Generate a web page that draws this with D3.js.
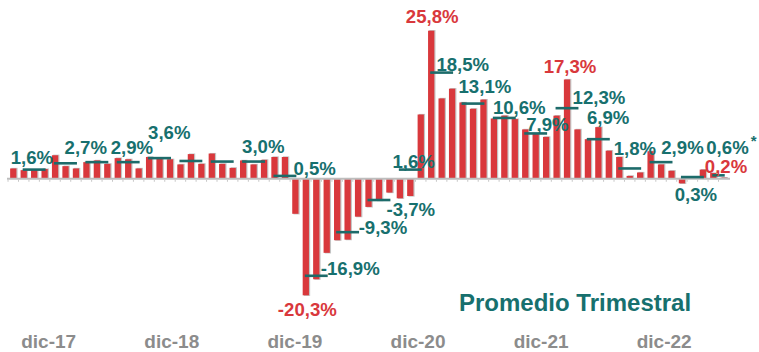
<!DOCTYPE html>
<html>
<head>
<meta charset="utf-8">
<script src="https://cdn.jsdelivr.net/npm/d3@7"></script>
<style>
  html, body { margin: 0; padding: 0; background: #ffffff; }
  svg { display: block; }
  text { font-family: "Liberation Sans", Arial, sans-serif; font-weight: bold; }
</style>
</head>
<body>
<svg id="chart" width="759" height="352"></svg>
<script>
// Monthly year-on-year variation (%), dic-17 .. ago-23
const months = [
  "dic-17",
  "ene-18","feb-18","mar-18","abr-18","may-18","jun-18","jul-18","ago-18","sep-18","oct-18","nov-18","dic-18",
  "ene-19","feb-19","mar-19","abr-19","may-19","jun-19","jul-19","ago-19","sep-19","oct-19","nov-19","dic-19",
  "ene-20","feb-20","mar-20","abr-20","may-20","jun-20","jul-20","ago-20","sep-20","oct-20","nov-20","dic-20",
  "ene-21","feb-21","mar-21","abr-21","may-21","jun-21","jul-21","ago-21","sep-21","oct-21","nov-21","dic-21",
  "ene-22","feb-22","mar-22","abr-22","may-22","jun-22","jul-22","ago-22","sep-22","oct-22","nov-22","dic-22",
  "ene-23","feb-23","mar-23","abr-23","may-23","jun-23","jul-23","ago-23"
];
const monthlyValues = [
  1.8,
  1.5, 1.6, 1.7, 4.1, 2.2, 1.8, 2.9, 3.2, 2.6, 3.6, 3.4, 1.8,
  3.8, 3.6, 3.4, 2.5, 4.3, 2.6, 4.4, 2.6, 1.9, 3.2, 2.5, 3.3,
  3.8, 3.8, -6.1, -20.3, -17.5, -12.9, -10.7, -10.6, -6.6, -4.9, -3.8, -2.4,
  -3.4, -3.0, 11.2, 25.8, 14.0, 15.7, 13.3, 12.2, 13.8, 10.5, 11.0, 10.4,
  8.6, 7.8, 7.3, 11.0, 17.3, 8.6, 6.9, 9.0, 4.9, 3.8, 0.5, 1.1,
  4.8, 2.5, 1.4, -0.8, 0.1, 1.6, 1.0, 0.2
];

// Quarterly averages (%); the last quarter is partial
const quarters = [
  "I-18","II-18","III-18","IV-18",
  "I-19","II-19","III-19","IV-19",
  "I-20","II-20","III-20","IV-20",
  "I-21","II-21","III-21","IV-21",
  "I-22","II-22","III-22","IV-22",
  "I-23","II-23","III-23"
];
const quarterAvg = [
  1.6, 2.7, 2.9, 2.9,
  3.6, 3.1, 3.0, 3.0,
  0.5, -16.9, -9.3, -3.7,
  1.6, 18.5, 13.1, 10.6,
  7.9, 12.3, 6.9, 1.8,
  2.9, 0.3, 0.6
];
const quarterLabelled = [
  true, true, false, true,
  true, false, false, true,
  true, true, true, true,
  true, true, true, true,
  true, true, true, true,
  true, true, true
];
const partialQuarter = "III-23";

// Months whose own value is written next to the bar
const highlightMonths = ["abr-20", "abr-21", "may-22", "ago-23"];

const tickLabels = ["dic-17", "dic-18", "dic-19", "dic-20", "dic-21", "dic-22"];
const legendText = "Promedio Trimestral";

// ---- layout helpers (offsets of labels from their mark, px) ----
const quarterLabelNudge = [
  [-12, -6], [10.5, -9], null, [-6, -8],
  [0, -19], null, null, [0, -8.5],
  [20, -1], [16, -1], [22.5, 2.3], [19, 16],
  [-6.4, -1.3], [6.2, -1.6], [-3, -10.3], [0, -4],
  [2, -2.8], [17, -4], [0, -15], [-4.6, -13.5],
  [11.7, -8], [-6.3, 23.6], [-6, -21]
];
const monthLabelNudge = { "abr-20": [1.5, 21], "abr-21": [1, -7.4], "may-22": [3, -6], "ago-23": [2.3, -4.2] };

const TEAL = "#17706e";
const TEAL_LINE = "#1d6b6a";
const RED = "#d9383c";
const GREY = "#8c8c8c";

const svg = d3.select("#chart");

const x = d3.scaleBand()
  .domain(months)
  .range([7, 730])
  .paddingInner(0.4)
  .paddingOuter(0.3);

const y = d3.scaleLinear()
  .domain([-21.5, 27])
  .range([302.2, 23.8]);

const fmt = v => d3.format(".1f")(v).replace(".", ",").replace("−", "-") + "%";

// bars (with a light grey edge behind them)
const bars = svg.append("g");
bars.selectAll("rect.shadow")
  .data(monthlyValues)
  .join("rect")
  .attr("class", "shadow")
  .attr("x", (d, i) => x(months[i]) + 1.2)
  .attr("y", d => Math.min(y(d), y(0)) - (d > 0 ? 0.6 : 0))
  .attr("width", x.bandwidth())
  .attr("height", d => Math.abs(y(d) - y(0)) + 0.6)
  .attr("fill", "#c4c4c4");
bars.selectAll("rect.bar")
  .data(monthlyValues)
  .join("rect")
  .attr("class", "bar")
  .attr("x", (d, i) => x(months[i]))
  .attr("y", d => Math.min(y(d), y(0)))
  .attr("width", x.bandwidth())
  .attr("height", d => Math.abs(y(d) - y(0)))
  .attr("fill", RED);

// zero line with small category ticks
const [r0, r1] = x.range();
svg.append("line")
  .attr("x1", r0).attr("x2", r1)
  .attr("y1", y(0)).attr("y2", y(0))
  .attr("stroke", "#bdbdbd").attr("stroke-width", 2);
const gap = x.step() * x.paddingInner() / 2;
svg.append("g").selectAll("line")
  .data(months)
  .join("line")
  .attr("x1", d => x(d) - gap).attr("x2", d => x(d) - gap)
  .attr("y1", y(0) + 1).attr("y2", y(0) + 3)
  .attr("stroke", "#c8c8c8").attr("stroke-width", 1);

// quarterly average segments
const cx = i => x(months[i]) + x.bandwidth() / 2;
const qSpan = q => {
  const first = 1 + 3 * q;
  const last = Math.min(first + 2, months.length - 1);
  return [cx(first) - 1, cx(last) + 1];
};
svg.append("g").selectAll("line")
  .data(quarterAvg)
  .join("line")
  .attr("x1", (d, q) => qSpan(q)[0])
  .attr("x2", (d, q) => qSpan(q)[1])
  .attr("y1", d => y(d)).attr("y2", d => y(d))
  .attr("stroke", TEAL_LINE).attr("stroke-width", 2.6);

// quarterly labels
const qLabels = svg.append("g");
quarterAvg.forEach((v, q) => {
  if (!quarterLabelled[q]) return;
  const [dx, dy] = quarterLabelNudge[q];
  const t = qLabels.append("text")
    .attr("x", qSpan(q)[0] + dx)
    .attr("y", y(v) + dy)
    .attr("font-size", 18.6)
    .attr("fill", TEAL)
    .text(fmt(v));
  if (quarters[q] === partialQuarter) {
    t.append("tspan").attr("dx", 2).attr("dy", -8).attr("font-size", 15).text("*");
  }
});

// highlighted monthly values
const mLabels = svg.append("g");
highlightMonths.forEach(m => {
  const i = months.indexOf(m);
  const v = monthlyValues[i];
  const [dx, dy] = monthLabelNudge[m];
  mLabels.append("text")
    .attr("x", cx(i) + dx)
    .attr("y", y(v) + dy)
    .attr("text-anchor", "middle")
    .attr("font-size", 18.6)
    .attr("fill", RED)
    .text(fmt(v));
});

// category labels along the bottom
const tickPos = d3.scalePoint().domain(tickLabels).range([48.7, 664.2]);
svg.append("g")
  .attr("transform", "translate(0,347.5)")
  .selectAll("text")
  .data(tickLabels)
  .join("text")
  .attr("x", d => tickPos(d))
  .attr("text-anchor", "middle")
  .attr("font-size", 19)
  .attr("fill", GREY)
  .text(d => d);

// series caption
svg.append("text")
  .attr("x", 459)
  .attr("y", 311)
  .attr("font-size", 24)
  .attr("fill", TEAL)
  .text(legendText);
</script>
</body>
</html>
